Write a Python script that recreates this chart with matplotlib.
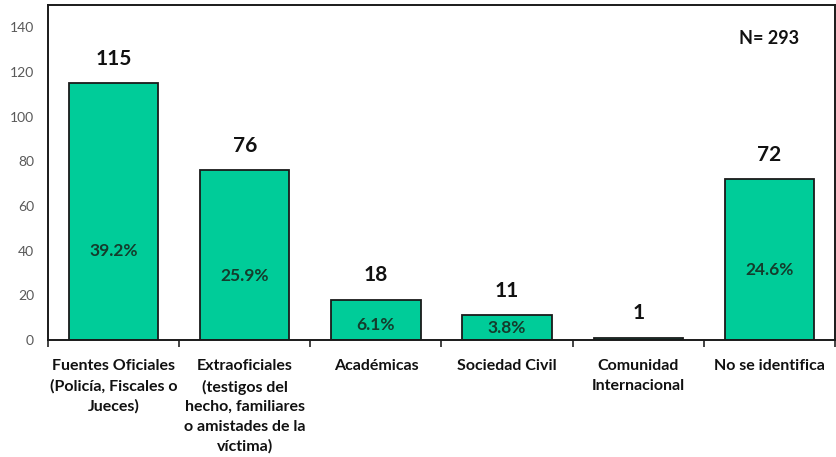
import matplotlib.pyplot as plt
import numpy as np

plt.rcParams['font.family'] = ['Lato', 'DejaVu Sans']

# data
categories = [
    "Fuentes Oficiales\n(Policía, Fiscales o\nJueces)",
    "Extraoficiales\n(testigos del\nhecho, familiares\no amistades de la\nvíctima)",
    "Académicas",
    "Sociedad Civil",
    "Comunidad\nInternacional",
    "No se identifica",
]
counts = [115, 76, 18, 11, 1, 72]
pct_labels = ["39.2%", "25.9%", "6.1%", "3.8%", "", "24.6%"]
pct_y = [40, 28.5, 6.8, 5.4, 0, 31.3]   # where the % text sits (data units)
total_n = 293

BAR_COLOR = "#00CC99"
EDGE = "#1a1a1a"

fig = plt.figure(figsize=(8.37, 4.57), dpi=100)
ax = fig.add_axes([48 / 837, 117 / 457, 787 / 837, 335 / 457])

x = np.arange(len(categories))
ax.bar(x, counts, width=0.68, color=BAR_COLOR, edgecolor=EDGE, linewidth=1.3, zorder=2)

for xi, c in zip(x, counts):
    ax.text(xi, c + 6.5, str(c), ha='center', va='bottom', fontsize=15,
            fontweight='bold', color='#111111')
for xi, p, py in zip(x, pct_labels, pct_y):
    if p:
        ax.text(xi, py, p, ha='center', va='center', fontsize=12.5,
                fontweight='bold', color='#143c2c')

ax.text(0.916, 0.90, "N= {}".format(total_n), transform=ax.transAxes,
        ha='center', va='center', fontsize=13, fontweight='bold', color='#111111')

ax.set_xlim(-0.5, len(categories) - 0.5)
ax.set_ylim(0, 150)
ax.set_yticks(np.arange(0, 141, 20))
ax.tick_params(axis='y', length=0, pad=10, labelsize=10, labelcolor='#595959')

ax.set_xticks(x)
ax.set_xticklabels(categories, fontsize=11.5, fontweight='bold', color='#111111',
                   linespacing=1.5, va='top')
ax.set_xticks(np.arange(-0.5, len(categories), 1), minor=True)
ax.tick_params(axis='x', which='major', length=0, pad=14)
ax.tick_params(axis='x', which='minor', length=5, width=1.2, color='#222222')

for s in ax.spines.values():
    s.set_color('#1a1a1a')
    s.set_linewidth(1.4)

fig.savefig("out.png", dpi=100)
